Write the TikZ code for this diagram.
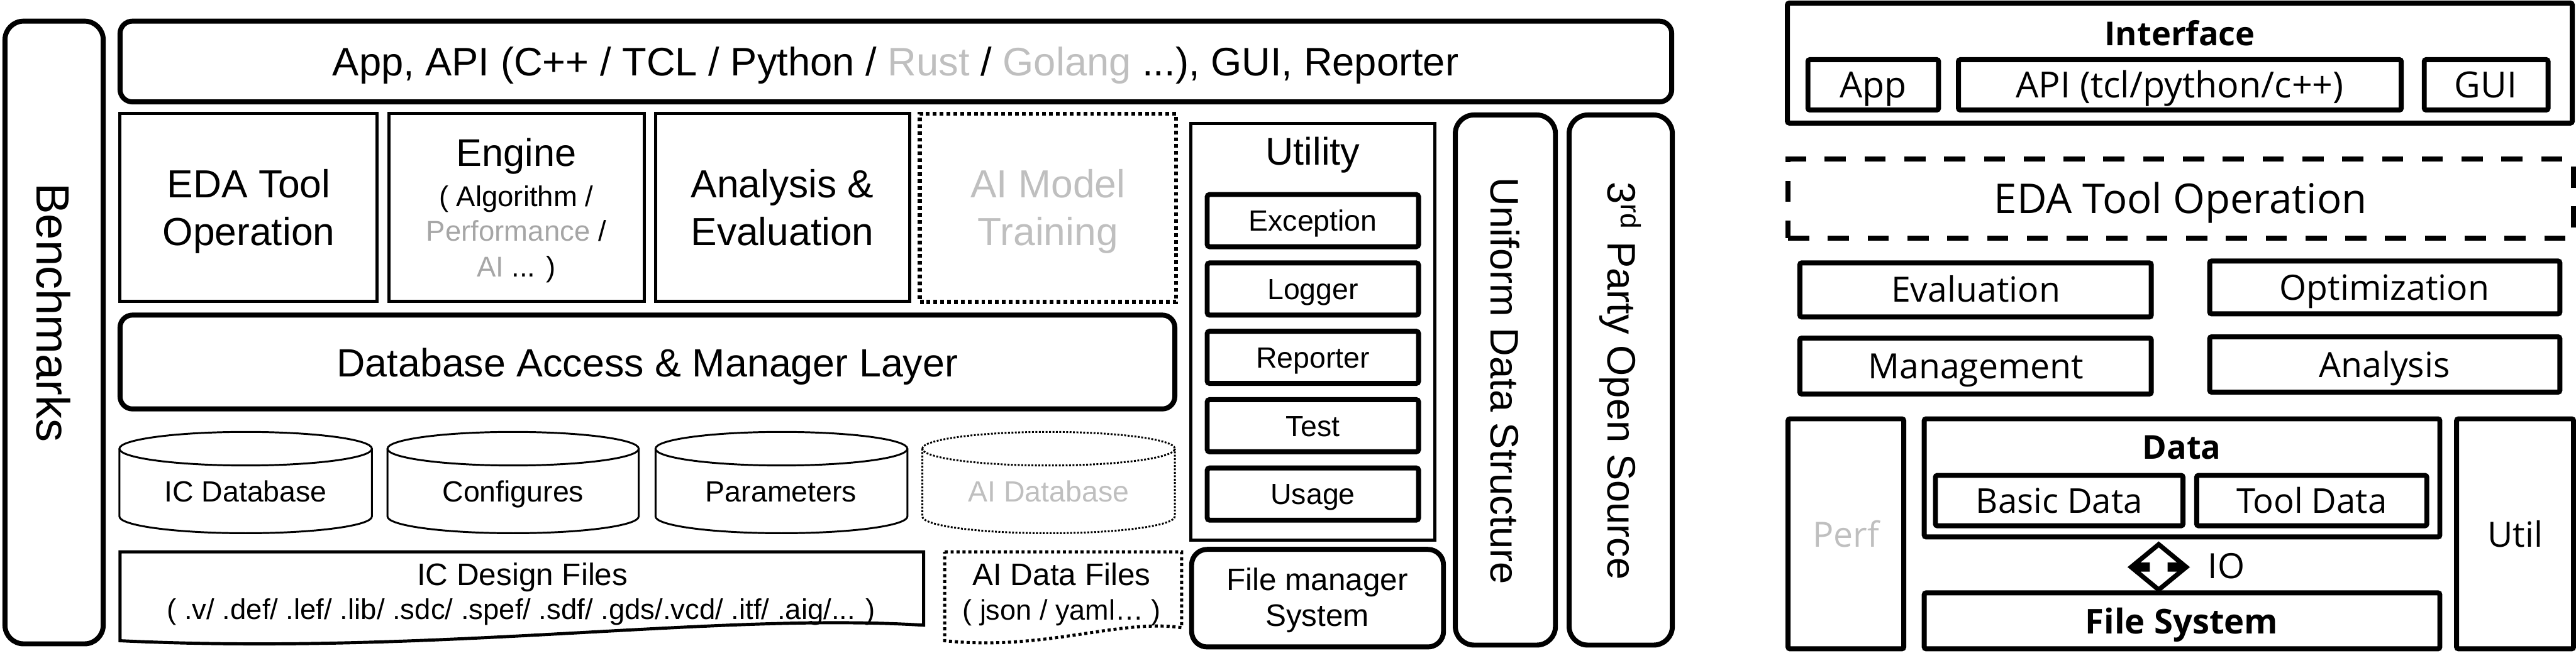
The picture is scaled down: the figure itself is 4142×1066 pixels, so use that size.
\documentclass[tikz,border=0pt]{standalone}
\usepackage{fontspec}
\setmainfont{Liberation Sans}
\newfontfamily\rfont{Open Sans}
\usetikzlibrary{fit}
\definecolor{lg}{RGB}{191,191,191}
\definecolor{mg}{RGB}{166,166,166}
\newcommand\fsz[1]{\fontsize{#1pt}{#1pt}\selectfont}
\newcommand\drawcyl[3]{%
  \pgfmathsetmacro\cylc{(#1+#2)/2}\pgfmathsetmacro\cylk{0.5523*(#2-#1)/2}%
  \draw[#3] (#1,722) .. controls (#1,707.1) and ({\cylc-\cylk},695) .. (\cylc,695)
    .. controls ({\cylc+\cylk},695) and (#2,707.1) .. (#2,722)
    .. controls (#2,736.9) and ({\cylc+\cylk},749) .. (\cylc,749)
    .. controls ({\cylc-\cylk},749) and (#1,736.9) .. (#1,722) -- cycle;
  \draw[#3] (#1,722) -- (#1,831) .. controls (#1,845.9) and ({\cylc-\cylk},858) .. (\cylc,858)
    .. controls ({\cylc+\cylk},858) and (#2,845.9) .. (#2,831) -- (#2,722);
}
\begin{document}
\begin{tikzpicture}[x=0.2pt,y=-0.2pt,
  every node/.style={inner sep=0pt,outer sep=0pt},
  b8/.style={draw,line width=1.6pt,inner sep=0pt},
  b5/.style={draw,line width=1pt,inner sep=0pt},
  tx/.style={anchor=base,inner sep=0pt},
  vt/.style={rotate=-90,font=\fsz{12.8},text height=9.2pt,text depth=0pt},
  rb/.style={b8,rounded corners=0.6pt},
  rt/.style={tx,font=\rfont\fsz{11.2}},
  cylb/.style={line width=0.6pt},
  cyld/.style={line width=0.6pt,dash pattern=on 0.6pt off 0.5pt},
]
\useasboundingbox (0,0) rectangle (4142,1066);

% ---------------- left part ----------------
\node[b8,rounded corners=6pt,fit={(8,34)(166,1036)}] (bench) {};
\node[vt,font=\fsz{15},text height=10.7pt] (benchT) at (86,503) {Benchmarks};

\node[b8,rounded corners=4pt,fit={(193,34)(2688,164)}] (api) {};
\node[tx,font=\fsz{12.8}] (apiT) at (1440,122) {App, API (C++ / TCL / Python / \textcolor{lg}{Rust} / \textcolor{lg}{Golang} ...), GUI, Reporter};

\node[b5,fit={(193,183)(606,485)}] (eda) {};
\node[tx,font=\fsz{12.6}] (edaT1) at (400,318) {EDA Tool};
\node[tx,font=\fsz{12.6}] (edaT2) at (400,395) {Operation};

\node[b5,fit={(625,183)(1036,485)}] (eng) {};
\node[tx,font=\fsz{12.4}] (engT1) at (830,267) {Engine};
\node[tx,font=\fsz{9.2}] (engT2) at (830,332) {( Algorithm /};
\node[tx,font=\fsz{9.2}] (engT3) at (830,388) {\textcolor{mg}{Performance} /};
\node[tx,font=\fsz{9.2}] (engT4) at (830,445) {\textcolor{mg}{AI} ... )};

\node[b5,fit={(1054,183)(1463,485)}] (ana) {};
\node[tx,font=\fsz{12.6}] (anaT1) at (1258,318) {Analysis \&};
\node[tx,font=\fsz{12.6}] (anaT2) at (1258,395) {Evaluation};

\node[draw,line width=1.3pt,dash pattern=on 1.2pt off 1pt,inner sep=0pt,fit={(1479,183)(1891,486)}] (aim) {};
\node[tx,font=\fsz{12.6},text=lg] (aimT1) at (1685,318) {AI Model};
\node[tx,font=\fsz{12.6},text=lg] (aimT2) at (1685,395) {Training};

\node[b8,rounded corners=4pt,fit={(193,507)(1889,658)}] (dbm) {};
\node[tx,font=\fsz{12.7}] (dbmT) at (1041,606) {Database Access \& Manager Layer};

\drawcyl{192}{598}{cylb}
\node[tx,font=\fsz{9.4}] (icdb) at (395,807) {IC Database};
\drawcyl{623}{1027}{cylb}
\node[tx,font=\fsz{9.4}] (conf) at (825,807) {Configures};
\drawcyl{1054}{1459}{cylb}
\node[tx,font=\fsz{9.4}] (para) at (1256,807) {Parameters};
\drawcyl{1483}{1889}{cyld}
\node[tx,font=\fsz{9.4},text=lg] (aidb) at (1686,807) {AI Database};

\draw[line width=1pt,line join=miter] (193,888) -- (1485,888) -- (1485,1006)
  .. controls (1150,985) and (700,1055) .. (193,1031) -- cycle;
\node[tx,font=\fsz{10}] (icf1) at (840,942) {IC Design Files};
\node[tx,font=\fsz{9.2}] (icf2) at (838,997) {( .v/ .def/ .lef/ .lib/ .sdc/ .spef/ .sdf/ .gds/.vcd/ .itf/ .aig/... )};

\draw[line width=1pt,dash pattern=on 1pt off 0.9pt] (1519,888) -- (1900,888) -- (1900,1010)
  .. controls (1800,995) and (1680,1048) .. (1519,1031) -- cycle;
\node[tx,font=\fsz{10}] (aif1) at (1707,942) {AI Data Files};
\node[tx,font=\fsz{9.1}] (aif2) at (1707,998) {( json / yaml… )};

\node[b5,fit={(1915,199)(2307,869)}] (util) {};
\node[tx,font=\fsz{12.4}] (utilT) at (2111,265) {Utility};
\node[b8,rounded corners=0.8pt,fit={(1941,313)(2281,397)}] (exc) {};
\node[tx,font=\fsz{9.4}] at (2111,372) (excT) {Exception};
\node[b8,rounded corners=0.8pt,fit={(1941,423)(2281,507)}] (log) {};
\node[tx,font=\fsz{9.4}] at (2111,482) (logT) {Logger};
\node[b8,rounded corners=0.8pt,fit={(1941,533)(2281,617)}] (rep) {};
\node[tx,font=\fsz{9.4}] at (2111,592) (repT) {Reporter};
\node[b8,rounded corners=0.8pt,fit={(1941,643)(2281,727)}] (tst) {};
\node[tx,font=\fsz{9.4}] at (2111,702) (tstT) {Test};
\node[b8,rounded corners=0.8pt,fit={(1941,753)(2281,837)}] (usg) {};
\node[tx,font=\fsz{9.4}] at (2111,812) (usgT) {Usage};

\node[b8,rounded corners=5pt,fit={(1916,884)(2321,1041)}] (fms) {};
\node[tx,font=\fsz{10}] (fmsT1) at (2118,950) {File manager};
\node[tx,font=\fsz{10}] (fmsT2) at (2118,1008) {System};

\node[b8,rounded corners=6pt,fit={(2340,185)(2501,1038)}] (uds) {};
\node[vt] (udsT) at (2420,613) {Uniform Data Structure};
\node[b8,rounded corners=6pt,fit={(2523,185)(2689,1038)}] (tpo) {};
\node[vt] (tpoT) at (2608,613) {3\textsuperscript{rd} Party Open Source};

% ---------------- right part ----------------
\node[rb,fit={(2874,5)(4136,198)}] (itf) {};
\node[tx,font=\rfont\bfseries\fsz{10.6}] (itfT) at (3505,73) {Interface};
\node[rb,fit={(2907,96)(3117,177)}] (app) {};
\node[tx,font=\rfont\fsz{11.6}] (appT) at (3012,157) {App};
\node[rb,fit={(3149,96)(3861,177)}] (apir) {};
\node[tx,font=\rfont\fsz{11.6}] (apirT) at (3505,157) {API (tcl/python/c++)};
\node[rb,fit={(3898,96)(4097,177)}] (gui) {};
\node[tx,font=\rfont\fsz{11.6}] (guiT) at (3997,157) {GUI};

\node[draw,line width=1.6pt,dash pattern=on 6.8pt off 6pt,inner sep=0pt,fit={(2875,256)(4138,383)}] (edar) {};
\node[tx,font=\rfont\fsz{13.2}] (edarT) at (3506,343) {EDA Tool Operation};

\node[rb,fit={(2894,423)(3459,510)}] (evl) {};
\node[rt] (evlT) at (3177,486) {Evaluation};
\node[rb,fit={(3553,420)(4116,505)}] (opt) {};
\node[rt] (optT) at (3834,483) {Optimization};
\node[rb,fit={(2894,544)(3459,634)}] (mgt) {};
\node[rt] (mgtT) at (3177,609) {Management};
\node[rb,fit={(3553,542)(4116,631)}] (anr) {};
\node[rt] (anrT) at (3834,607) {Analysis};

\node[rb,fit={(2875,674)(3061,1044)}] (perf) {};
\node[rt,text=lg] (perfT) at (2968,880) {Perf};
\node[rb,fit={(3950,674)(4138,1044)}] (utl) {};
\node[rt] (utlT) at (4044,880) {Util};

\node[rb,fit={(3094,674)(3923,864)}] (data) {};
\node[tx,font=\rfont\bfseries\fsz{10.6}] (dataT) at (3508,739) {Data};
\node[rb,fit={(3112,765)(3510,846)}] (bd) {};
\node[tx,font=\rfont\fsz{11}] (bdT) at (3311,826) {Basic Data};
\node[rb,fit={(3532,765)(3902,846)}] (td) {};
\node[tx,font=\rfont\fsz{11}] (tdT) at (3717,826) {Tool Data};

\node[rb,fit={(3094,954)(3923,1044)}] (fs) {};
\node[tx,font=\rfont\bfseries\fsz{11}] (fsT) at (3508,1020) {File System};

\draw[line width=1.5pt,line join=miter] (3471,876) -- (3511,909) -- (3489,909) -- (3489,916)
  -- (3511,916) -- (3471,949) -- (3431,916) -- (3453,916) -- (3453,909) -- (3431,909) -- cycle;
\node[tx,anchor=base west,font=\rfont\fsz{11.2}] (io) at (3550,931) {IO};
\end{tikzpicture}
\end{document}
